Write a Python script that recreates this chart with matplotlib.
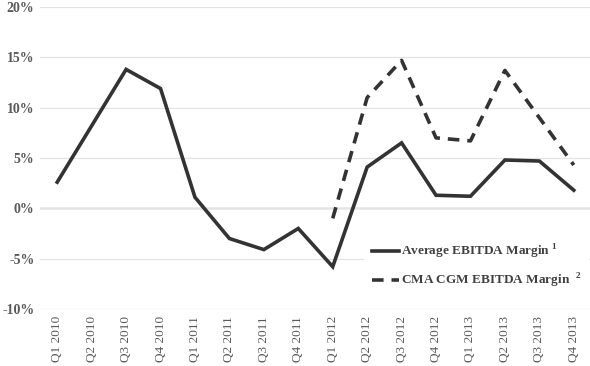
import matplotlib
matplotlib.use("Agg")
import matplotlib.pyplot as plt
from matplotlib.ticker import FuncFormatter

quarters = ["Q1 2010", "Q2 2010", "Q3 2010", "Q4 2010",
            "Q1 2011", "Q2 2011", "Q3 2011", "Q4 2011",
            "Q1 2012", "Q2 2012", "Q3 2012", "Q4 2012",
            "Q1 2013", "Q2 2013", "Q3 2013", "Q4 2013"]
avg_margin = [2.6, 8.2, 13.8, 11.9, 1.1, -3.0, -4.1, -2.0,
              -5.8, 4.1, 6.5, 1.3, 1.2, 4.8, 4.7, 1.8]
cma_quarters = quarters[8:]
cma_margin = [-1.0, 11.0, 14.7, 7.0, 6.7, 13.7, 9.0, 4.3]
y_ticks = [-10, -5, 0, 5, 10, 15, 20]

plt.rcParams['font.family'] = ['Liberation Serif', 'DejaVu Serif']
plt.rcParams['mathtext.fontset'] = 'custom'
plt.rcParams['mathtext.rm'] = 'Liberation Serif'
plt.rcParams['mathtext.bf'] = 'Liberation Serif:bold'

fig = plt.figure(figsize=(5.9, 3.66), dpi=100)
ax = fig.add_axes([40/590, 1-309/366, 551/590, (309-7)/366])

x = list(range(len(quarters)))
xc = [quarters.index(q) for q in cma_quarters]
line_col = '#333333'
ax.plot(x, avg_margin, color=line_col, lw=2.6, solid_joinstyle='miter',
        label=r"Average EBITDA Margin $^{\mathbf{1}}$", zorder=3)
ax.plot(xc, cma_margin, color=line_col, lw=2.6, linestyle=(0, (3.2, 2.2)),
        label=r"CMA CGM EBITDA Margin  $^{\mathbf{2}}$", zorder=3)

ax.set_xlim(-0.5, len(quarters) - 0.5)
ax.set_ylim(-10, 20)
ax.set_yticks(y_ticks)
ax.yaxis.set_major_formatter(FuncFormatter(lambda v, p: f"{v:.0f}%"))
ax.set_xticks(x)
ax.set_xticklabels(quarters, rotation=90)
for s in ax.spines.values():
    s.set_visible(False)
ax.tick_params(length=0, labelcolor='#595959')
ax.tick_params(axis='y', labelsize=10, pad=4)
ax.tick_params(axis='x', labelsize=9.5, pad=5)
for lab in ax.get_yticklabels():
    lab.set_fontweight('bold')
ax.grid(axis='y', color='#e3e3e3', lw=0.9, zorder=0)
ax.axhline(0, color='#a6a6a6', lw=1.0, zorder=1)

leg = ax.legend(loc='upper left', bbox_to_anchor=(357/590, 1-228/366),
                bbox_transform=fig.transFigure, frameon=True, facecolor='white',
                edgecolor='none', framealpha=1, fontsize=9.5, handlelength=2.1,
                handletextpad=0.1, labelspacing=0.8, borderpad=0.6)
for t in leg.get_texts():
    t.set_color('#404040')
    t.set_fontweight('bold')

fig.savefig("out.png", dpi=100)
